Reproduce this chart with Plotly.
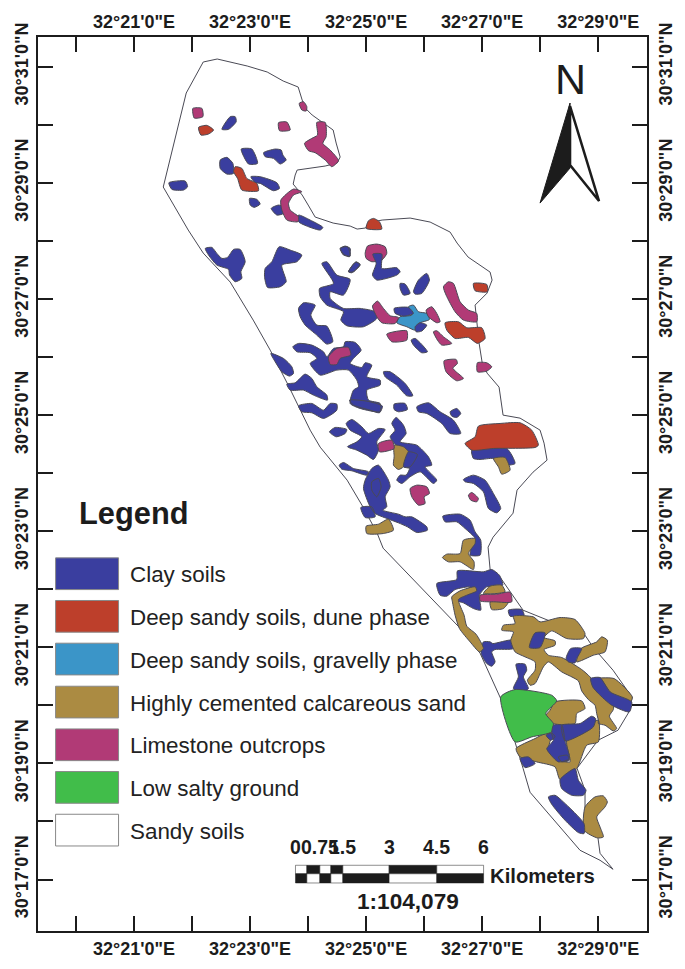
import plotly.graph_objects as go

# ---- Map grid: arc-minutes past 32 deg E and 30 deg N ----
LON_TICKS = [20, 21, 22, 23, 24, 25, 26, 27, 28, 29]
LAT_TICKS = [31, 30, 29, 28, 27, 26, 25, 24, 23, 22, 21, 20, 19, 18, 17]
LON_LABELS = {21: "32°21'0\"E", 23: "32°23'0\"E", 25: "32°25'0\"E", 27: "32°27'0\"E", 29: "32°29'0\"E"}
LAT_LABELS = {31: "30°31'0\"N", 29: "30°29'0\"N", 27: "30°27'0\"N", 25: "30°25'0\"N",
              23: "30°23'0\"N", 21: "30°21'0\"N", 19: "30°19'0\"N", 17: "30°17'0\"N"}

# Digitised sheets: origin of each traced sheet and its digitising scale
SHEETS = {"S0": (0, 0, 1), "T1": (0, 0, 3), "T2": (340, 0, 3), "T3": (180, 230, 3), "T4": (340, 230, 3),
          "T5": (320, 400, 3), "T6": (420, 560, 3), "T7": (480, 680, 3)}

SANDY_BOUNDARY = [("S0", [(203,62),(217,59),(247,66),(267,72),(283,81),(298,87),(302,100),(305,108),(312,115),(333,130),(336,143),(340,157),(337,163),(325,166),(297,170),(295,175),(293,184),(302,195),(308,205),(315,217),(333,223),(350,226),(357,229),(365,228),(372,222),(382,220),(410,218),(430,222),(450,232),(455,240),(457,243),(468,257),(490,272),(492,280),(487,293),(475,305),(477,323),(479,343),(482,362),(487,373),(499,387),(503,415),(520,418),(540,430),(544,443),(547,460),(533,472),(517,490),(513,513),(493,537),(488,547),(490,569),(500,577),(523,610),(585,635),(593,647),(613,670),(632,697),(630,710),(618,730),(598,740),(577,768),(585,790),(585,808),(598,838),(600,853),(613,869),(600,860),(580,850),(563,830),(530,792),(523,768),(515,742),(500,697),(480,653),(460,628),(433,600),(420,587),(383,548),(377,533),(363,507),(347,480),(320,447),(310,430),(287,383),(270,350),(253,320),(230,282),(203,253),(188,230),(163,187),(186,93)])]

CLAY_SOILS = [
 ("T1",[(506,548),(555,543),(562,560),(550,570),(515,568)]),
 ("T1",[(665,388),(690,350),(705,350),(708,365),(685,388)]),
 ("T1",[(723,447),(755,447),(772,490),(745,492)]),
 ("T1",[(790,458),(825,447),(843,450),(848,465),(858,480),(840,492),(820,475),(795,470)]),
 ("T1",[(660,480),(680,472),(698,490),(700,520),(680,522),(660,505)]),
 ("T1",[(752,530),(780,530),(830,548),(838,565),(820,572),(780,550),(765,548)]),
 ("T1",[(748,595),(770,598),(780,612),(762,622),(750,615)]),
 ("T1",[(813,625),(835,615),(850,620),(850,640),(830,645)]),
 ("T1",[(895,645),(930,660),(968,682),(960,690),(925,680),(895,665)]),
 ("T3",[(75,55),(95,52),(110,70),(125,85),(142,82),(160,58),(180,58),(195,95),(182,125),(185,145),(165,155),(148,135),(145,118),(110,105),(85,75)]),
 ("T3",[(255,115),(275,95),(297,50),(330,60),(365,75),(350,95),(305,105),(318,155),(300,170),(262,172),(253,140)]),
 ("T3",[(480,55),(495,48),(510,55),(508,80),(490,72)]),
 ("T3",[(505,125),(525,97),(540,102),(520,125)]),
 ("T3",[(425,100),(440,95),(470,135),(510,148),(490,195),(450,185),(450,205),(490,235),(540,235),(585,245),(590,265),(550,290),(500,287),(482,270),(490,245),(440,225),(420,200),(418,175),(460,160)]),
 ("T3",[(355,235),(370,218),(405,225),(392,255),(410,285),(440,288),(458,335),(440,342),(410,315),(375,285),(360,260)]),
 ("T3",[(338,350),(355,340),(395,345),(430,365),(440,380),(460,355),(490,350),(495,335),(525,337),(543,360),(520,385),(510,400),(545,412),(555,398),(575,405),(560,440),(600,450),(600,465),(560,480),(565,510),(600,520),(600,545),(540,535),(510,520),(520,480),(535,470),(530,450),(505,420),(470,420),(420,435),(390,400),(410,385),(390,368),(350,365)]),
 ("T3",[(272,370),(310,385),(335,410),(340,430),(328,438),(305,425),(285,395)]),
 ("T3",[(320,462),(345,458),(375,432),(395,445),(410,470),(440,495),(442,510),(400,495),(370,480),(330,480)]),
 ("T3",[(355,527),(395,520),(430,540),(450,520),(470,522),(470,540),(430,565),(395,548),(365,545)]),
 ("T4",[(0,55),(22,50),(30,78),(10,75)]),
 ("T4",[(25,125),(48,95),(60,105),(35,128)]),
 ("T4",[(180,160),(195,162),(210,190),(190,195),(180,175)]),
 ("T4",[(220,185),(235,150),(260,130),(268,150),(245,190),(225,192)]),
 ("T4",[(213,330),(225,325),(262,365),(245,368),(220,345)]),
 ("T4",[(130,425),(150,425),(195,460),(218,497),(200,497),(170,465),(135,440)]),
 ("T4",[(330,545),(350,535),(362,550),(350,562),(335,558)]),
 ("T5",[(88,0),(140,3),(187,18),(178,38),(150,30),(100,15)]),
 ("T5",[(222,12),(255,10),(262,28),(235,35),(222,28)]),
 ("T5",[(290,20),(325,8),(360,35),(400,60),(422,100),(390,100),(365,70),(320,40),(295,35)]),
 ("T5",[(28,95),(45,82),(80,88),(75,100),(48,110)]),
 ("T5",[(78,70),(95,58),(125,80),(145,100),(175,85),(195,88),(170,125),(175,150),(160,178),(140,165),(110,150),(82,140),(110,125),(125,110),(90,90)]),
 ("T5",[(215,70),(228,52),(250,75),(258,100),(240,125),(290,135),(325,170),(335,195),(315,200),(350,240),(340,250),(300,215),(270,230),(245,250),(230,240),(240,225),(258,225),(268,205),(250,200),(262,155),(228,135),(210,110),(225,90)]),
 ("T5",[(57,195),(70,187),(100,205),(145,215),(140,225),(95,212),(65,207)]),
 ("T5",[(155,205),(175,195),(205,240),(210,260),(195,290),(200,320),(188,330),(235,342),(255,350),(275,350),(320,380),(322,390),(290,397),(262,380),(235,368),(200,355),(165,340),(150,320),(130,265),(135,240)]),
 ("T5",[(122,322),(155,320),(165,350),(135,352)]),
 ("T5",[(430,238),(460,225),(495,240),(520,280),(542,325),(530,338),(505,325),(490,275),(460,250),(435,245)]),
 ("T5",[(368,348),(420,342),(450,360),(465,395),(482,420),(480,465),(450,465),(455,440),(465,415),(435,385),(410,365),(375,365)]),
 ("T5",[(455,150),(560,145),(585,190),(560,195),(520,175),(480,178),(460,175)]),
 ("T6",[(50,70),(110,58),(112,32),(190,35),(215,28),(238,45),(248,75),(200,80),(178,105),(182,150),(160,145),(130,128),(105,120),(115,105),(150,80),(105,88),(80,108),(60,105)]),
 ("T6",[(265,150),(305,148),(312,165),(270,168)]),
 ("T6",[(190,245),(210,245),(218,250),(275,240),(280,265),(225,268),(215,275),(225,305),(215,318),(200,310),(183,280)]),
 ("T6",[(288,312),(315,312),(320,330),(310,350),(325,385),(310,395),(280,385),(295,350)]),
]

DUNE_PHASE = [
 ("T1",[(595,382),(620,376),(640,390),(625,402),(602,405)]),
 ("T1",[(705,500),(725,505),(740,535),(770,550),(775,572),(725,570),(712,535),(700,515)]),
 ("T2",[(78,685),(85,662),(100,655),(118,665),(125,687)]),
 ("T4",[(400,160),(440,163),(442,185),(405,182)]),
 ("T4",[(315,278),(355,275),(380,293),(425,293),(435,325),(412,340),(385,322),(345,325),(320,300)]),
 ("T5",[(435,130),(465,110),(475,78),(540,70),(600,68),(635,90),(655,135),(645,142),(520,145),(455,150)]),
]

GRAVELLY_PHASE = [
 ("T4",[(205,230),(220,225),(235,245),(260,250),(268,268),(235,280),(225,300),(200,290),(170,278),(180,260),(215,255)]),
]

CALCAREOUS_SAND = [
 ("T5",[(222,135),(250,140),(265,155),(250,200),(235,208),(220,195),(222,170)]),
 ("T5",[(138,378),(175,372),(205,357),(220,390),(190,400),(140,400)]),
 ("T5",[(520,175),(555,172),(570,210),(545,222),(535,200)]),
 ("T5",[(430,420),(465,415),(465,430),(445,460),(462,485),(460,508),(420,485),(385,485),(367,472),(380,462),(420,460)]),
 ("T6",[(280,168),(340,170),(360,185),(420,172),(465,178),(495,220),(490,235),(440,235),(395,212),(372,232),(405,242),(405,255),(372,268),(385,285),(425,292),(485,328),(510,350),(540,390),(580,430),(580,448),(568,468),(590,505),(580,512),(555,495),(535,490),(535,480),(530,460),(525,435),(505,418),(485,392),(475,362),(425,335),(385,305),(370,320),(345,370),(330,375),(322,360),(345,330),(345,305),(315,290),(285,275),(272,240),(280,215),(245,210),(250,195),(285,190)]),
 ("T6",[(515,355),(582,355),(637,410),(632,425),(575,400),(540,355)]),
 ("T6",[(483,265),(530,245),(545,230),(562,240),(555,275),(520,285),(470,305)]),
 ("T6",[(95,110),(120,92),(165,80),(170,92),(140,105),(115,118),(132,165),(140,198),(168,222),(190,265),(178,275),(150,245),(118,205),(105,165),(97,125)]),
 ("T6",[(190,100),(210,78),(245,75),(255,95)]),
 ("T6",[(210,125),(265,125),(250,145),(215,148)]),
 ("T6",[(405,425),(485,422),(495,445),(470,460),(465,490),(400,490),(378,465),(390,450)]),
 ("T7",[(165,175),(195,160),(215,160),(205,210),(240,240),(270,245),(260,180),(330,130),(355,120),(355,185),(320,195),(290,265),(240,298),(225,260),(170,245),(120,230),(108,205)]),
 ("T7",[(315,380),(345,350),(370,347),(382,365),(375,380),(350,410),(360,440),(370,470),(352,473),(312,450)]),
]

LIMESTONE = [
 ("T1",[(578,325),(605,325),(608,350),(582,354)]),
 ("T1",[(897,310),(910,305),(920,320),(918,333),(905,330)]),
 ("T1",[(835,368),(860,366),(870,390),(838,392)]),
 ("T1",[(950,367),(975,367),(978,410),(968,430),(990,450),(1015,482),(995,500),(975,480),(945,458),(925,452),(913,430),(935,415),(952,405)]),
 ("T1",[(880,567),(905,575),(880,585),(865,610),(870,630),(895,650),(893,665),(860,660),(845,630),(842,600)]),
 ("T3",[(445,380),(470,355),(505,352),(512,375),(480,385),(470,403),(450,403)]),
 ("T4",[(75,70),(82,48),(110,42),(135,50),(140,70),(125,90),(95,95),(78,85)]),
 ("T4",[(310,170),(325,155),(340,160),(360,215),(385,240),(410,250),(410,275),(370,270),(345,245),(318,195)]),
 ("T4",[(97,228),(112,213),(130,235),(150,257),(175,262),(165,280),(125,278),(110,260)]),
 ("T4",[(258,240),(275,230),(290,250),(300,275),(290,278),(265,260)]),
 ("T4",[(140,312),(200,302),(200,330),(155,335)]),
 ("T4",[(280,305),(290,302),(310,320),(335,340),(305,345),(292,330)]),
 ("T4",[(312,392),(348,388),(352,400),(338,414),(348,425),(370,445),(350,452),(318,425)]),
 ("T4",[(412,398),(440,398),(455,410),(440,423),(412,425)]),
 ("T5",[(175,130),(215,120),(222,145),(178,155)]),
 ("T5",[(270,265),(290,255),(320,260),(328,280),(312,290),(315,310),(295,315),(275,290)]),
 ("T5",[(445,285),(455,277),(475,295),(470,305),(452,300)]),
 ("T6",[(180,105),(230,102),(270,96),(275,125),(225,125),(180,122)]),
]

LOW_SALTY_GROUND = [
 ("T7",[(62,50),(105,28),(215,45),(230,62),(197,100),(220,130),(215,155),(155,170),(105,185)]),
]

CLAY_OVER = [
 ("T4",[(98,72),(125,72),(125,115),(170,113),(180,125),(170,135),(110,150),(97,135),(108,100)]),
 ("T4",[(162,235),(205,232),(220,250),(190,258),(165,250)]),
 ("T4",[(225,290),(240,278),(260,285),(245,303),(228,305)]),
 ("T5",[(265,155),(292,163),(270,200),(250,200)]),
 ("T5",[(155,245),(175,235),(183,260),(170,290),(155,270)]),
 ("T6",[(345,218),(375,218),(360,262),(328,262)]),
 ("T6",[(438,295),(452,265),(485,265),(470,295),(465,308),(445,305)]),
 ("T6",[(512,355),(540,352),(570,395),(635,425),(628,455),(575,435),(535,400),(518,380)]),
 ("T7",[(215,160),(220,135),(245,135),(255,182),(268,235),(235,245),(205,215),(200,205),(220,180)]),
 ("T7",[(245,135),(300,130),(335,108),(347,115),(340,140),(300,165),(255,182)]),
 ("T7",[(198,165),(215,158),(225,170),(212,180)]),
 ("T7",[(235,230),(262,225),(268,240),(245,245)]),
 ("T7",[(120,235),(145,230),(165,250),(135,262)]),
 ("T7",[(240,298),(285,265),(295,300),(318,330),(310,345),(275,345),(245,325)]),
 ("T7",[(205,350),(225,345),(250,365),(312,430),(312,460),(295,457),(255,420),(215,372)]),
]

# ---- Legend, scale bar and text ----
LEGEND_NAMES = ["Clay soils", "Deep sandy soils, dune phase", "Deep sandy soils, gravelly phase",
                "Highly cemented calcareous sand", "Limestone outcrops", "Low salty ground", "Sandy soils"]
LEGEND_COLOURS = ["#3a3e9f", "#bd3f2b", "#3b95c8", "#ab8b42", "#b13a76", "#41bd4a", "#ffffff"]
LEGEND_TOPS = [557.7, 600.3, 643, 686, 728.7, 771.3, 814]
SCALE_EDGES = [295.3, 306.7, 319.7, 330.7, 342.7, 389, 436.7, 483.5]
SCALE_LABELS = [(295.3, "0"), (319.7, "0.75"), (342.7, "1.5"), (389, "3"), (436.7, "4.5"), (483.5, "6")]
ARROW_DARK = [(570, 103), (540, 203), (570, 168)]
ARROW_LIGHT = [(570, 106), (570, 165), (599, 201)]

W, H = 685, 969
L, R, T, B = 37.7, 647, 37, 930.7
FONT = "Liberation Sans"
INK = "#1c1c1c"


def lon(px):
    return 20 + (px - 75.7) / 58.05


def lat(py):
    return 31 - (py - 66.7) / 58.04


def polys(items, closed=True):
    xs, ys = [], []
    for sheet, pts in items:
        ox, oy, s = SHEETS[sheet]
        ring = pts + pts[:1] if closed else pts
        xs += [lon(ox + p[0] / s) for p in ring] + [None]
        ys += [lat(oy + p[1] / s) for p in ring] + [None]
    return xs, ys


fig = go.Figure()


def add_class(items, colour, name, spline=True):
    xs, ys = polys(items)
    line = dict(color="#4a4a55", width=1)
    if spline:
        line.update(shape="spline", smoothing=0.6)
    fig.add_trace(go.Scatter(x=xs, y=ys, mode="lines", fill="toself", fillcolor=colour, line=line,
                             name=name, showlegend=False, hoverinfo="skip"))


add_class(SANDY_BOUNDARY, LEGEND_COLOURS[6], LEGEND_NAMES[6], spline=False)
add_class(CLAY_SOILS, LEGEND_COLOURS[0], LEGEND_NAMES[0])
add_class(DUNE_PHASE, LEGEND_COLOURS[1], LEGEND_NAMES[1])
add_class(GRAVELLY_PHASE, LEGEND_COLOURS[2], LEGEND_NAMES[2])
add_class(CALCAREOUS_SAND, LEGEND_COLOURS[3], LEGEND_NAMES[3])
add_class(LIMESTONE, LEGEND_COLOURS[4], LEGEND_NAMES[4])
add_class(LOW_SALTY_GROUND, LEGEND_COLOURS[5], LEGEND_NAMES[5])
add_class(CLAY_OVER, LEGEND_COLOURS[0], LEGEND_NAMES[0])

# invisible trace so the top/right axes are drawn
fig.add_trace(go.Scatter(x=[lon(100)], y=[lat(100)], xaxis="x2", yaxis="y2", mode="markers",
                         marker=dict(opacity=0), showlegend=False, hoverinfo="skip"))

x_range = [lon(L), lon(R)]
y_range = [lat(B), lat(T)]
lon_text = [LON_LABELS.get(v, "") for v in LON_TICKS]
lat_text = [LAT_LABELS.get(v, "") for v in LAT_TICKS]
common = dict(showgrid=False, zeroline=False, showline=True, linecolor=INK, linewidth=2,
              ticks="inside", ticklen=15, tickwidth=2, tickcolor=INK, tickmode="array",
              tickfont=dict(family=FONT, size=18, color=INK, weight=700), fixedrange=True)
xcommon = dict(common, range=x_range, tickvals=LON_TICKS, ticktext=lon_text, tickangle=0)
ycommon = dict(common, range=y_range, tickvals=LAT_TICKS, ticktext=lat_text, tickangle=-90)

shapes, notes = [], []


def rect(x0, y0, x1, y1, fill, line="#888888", width=1):
    shapes.append(dict(type="rect", xref="x", yref="y", x0=lon(x0), x1=lon(x1), y0=lat(y0), y1=lat(y1),
                       fillcolor=fill, line=dict(color=line, width=width)))


def text(x, y, s, size, bold=False, anchor="center", colour=INK):
    if anchor == "left":
        x -= 2
    notes.append(dict(xref="x", yref="y", x=lon(x), y=lat(y), text=s, showarrow=False, xanchor=anchor,
                      yanchor="middle", font=dict(family=FONT, size=size, color=colour, weight=700 if bold else 400)))


def path(pts, fill, line, width):
    d = "M" + " L".join(f"{lon(a)},{lat(b)}" for a, b in pts) + " Z"
    shapes.append(dict(type="path", xref="x", yref="y", path=d, fillcolor=fill, line=dict(color=line, width=width)))


for top, colour, name in zip(LEGEND_TOPS, LEGEND_COLOURS, LEGEND_NAMES):
    rect(55.3, top, 118.3, top + 31.7, colour)
    text(130, top + 17, name, 22.4, anchor="left", colour="#222222")
text(79, 513, "Legend", 30.8, bold=True, anchor="left")

for i in range(len(SCALE_EDGES) - 1):
    a, b = SCALE_EDGES[i], SCALE_EDGES[i + 1]
    rect(a, 865, b, 873.5, INK if i % 2 else "#ffffff", line=INK, width=0.5)
    rect(a, 873.5, b, 882.7, "#ffffff" if i % 2 else INK, line=INK, width=0.5)
for px, s in SCALE_LABELS:
    text(px, 847, s, 19.5, bold=True)
text(490, 876, "Kilometers", 20.3, bold=True, anchor="left")
text(408.3, 901, "1:104,079", 22.6, bold=True)

text(570, 79, "N", 43)
path(ARROW_DARK, INK, INK, 1)
path(ARROW_LIGHT, "#ffffff", INK, 2.5)

fig.update_layout(
    width=W, height=H, margin=dict(l=L, r=W - R, t=T, b=H - B, pad=0, autoexpand=False),
    paper_bgcolor="white", plot_bgcolor="white", showlegend=False, shapes=shapes, annotations=notes,
    xaxis=dict(xcommon, side="bottom", ticklabelstandoff=0),
    yaxis=dict(ycommon, side="left", ticklabelstandoff=1),
    xaxis2=dict(xcommon, side="top", overlaying="x", anchor="y2", ticklabelstandoff=0),
    yaxis2=dict(ycommon, side="right", overlaying="y", anchor="x2", ticklabelstandoff=1),
)
fig.write_html("out.html", post_script="document.body.style.margin='0';",
               config=dict(displayModeBar=False))
